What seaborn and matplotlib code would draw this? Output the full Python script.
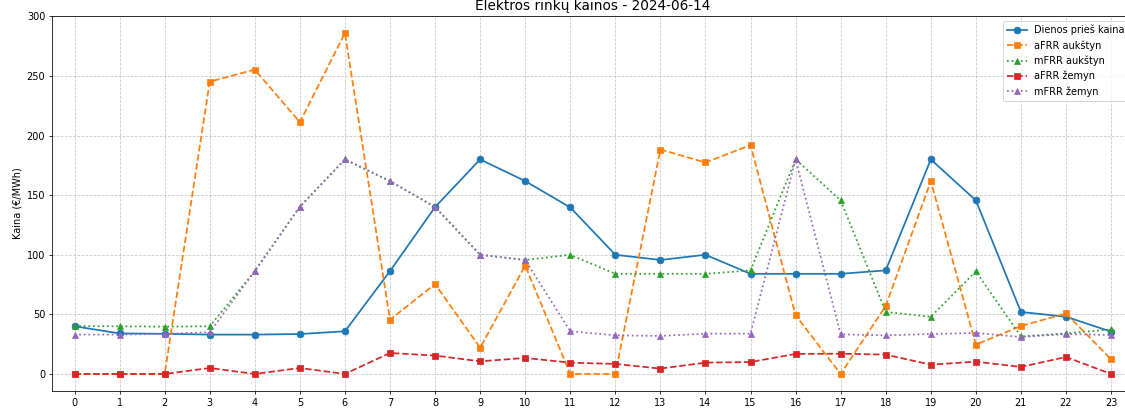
import matplotlib

matplotlib.use("Agg")
import matplotlib.pyplot as plt
import seaborn as sns

# valandos
hours = list(range(24))

dienos_pries = [40, 34, 33.7, 33, 33, 33.5, 35.8, 86.3, 140, 180, 161.8, 139.7,
                100, 95.6, 100, 84, 84, 84, 86.9, 180, 145.6, 52, 48, 35.5]
afrr_aukstyn = [0, 0, 0, 245.2, 255.3, 211.2, 286, 45.5, 75.4, 22, 90.8, 0,
                0, 188.3, 177.4, 192, 49.2, 0, 57, 161.8, 24.6, 40.2, 50.8, 12.3]
mfrr_aukstyn = [40.2, 40, 39.7, 40, 86.3, 140.3, 180, 161.8, 140, 100, 95.6, 100,
                84, 84, 84, 86.9, 180, 145.6, 52, 48, 86, 31.5, 34, 37.4]
afrr_zemyn = [0, 0, 0, 5, 0, 5, 0, 17.6, 15.4, 10.6, 13.4, 9.5,
              8.4, 4.5, 9.5, 10, 16.8, 17, 16.2, 7.8, 10.3, 5.9, 14.2, 0]
mfrr_zemyn = [33, 33, 33.7, 35, 86.3, 140.3, 180, 161.8, 140, 100, 95.6, 35.8,
              32.4, 31.9, 33.8, 33.8, 180, 33.2, 32.4, 33.5, 34.4, 31, 33.5, 32.7]

series = [
    ("Dienos prieš kaina", dienos_pries, "#1f77b4", "-", "o"),
    ("aFRR aukštyn", afrr_aukstyn, "#ff7f0e", "--", "s"),
    ("mFRR aukštyn", mfrr_aukstyn, "#2ca02c", ":", "^"),
    ("aFRR žemyn", afrr_zemyn, "#d62728", "--", "s"),
    ("mFRR žemyn", mfrr_zemyn, "#9467bd", ":", "^"),
]

DPI = 70
fig = plt.figure(figsize=(1125 / DPI, 410 / DPI), dpi=DPI)
ax = fig.add_axes([52 / 1125, 19 / 410, (1133.6 - 52) / 1125, (391 - 16) / 410])

for label, vals, color, ls, mk in series:
    sns.lineplot(x=hours, y=vals, ax=ax, label=label, color=color, linestyle=ls,
                 marker=mk, markersize=7, markeredgecolor=color, linewidth=1.8)

ax.set_title("Elektros rinkų kainos - 2024-06-14", fontsize=14)
ax.set_ylabel("Kaina (€/MWh)")
ax.set_xlabel("")
ax.set_xticks(hours)
ax.set_xlim(-0.5, 23.5)
ax.grid(True, linestyle="--", alpha=0.7)
ax.legend(loc="upper right")

fig.savefig("out.png", dpi=DPI)
